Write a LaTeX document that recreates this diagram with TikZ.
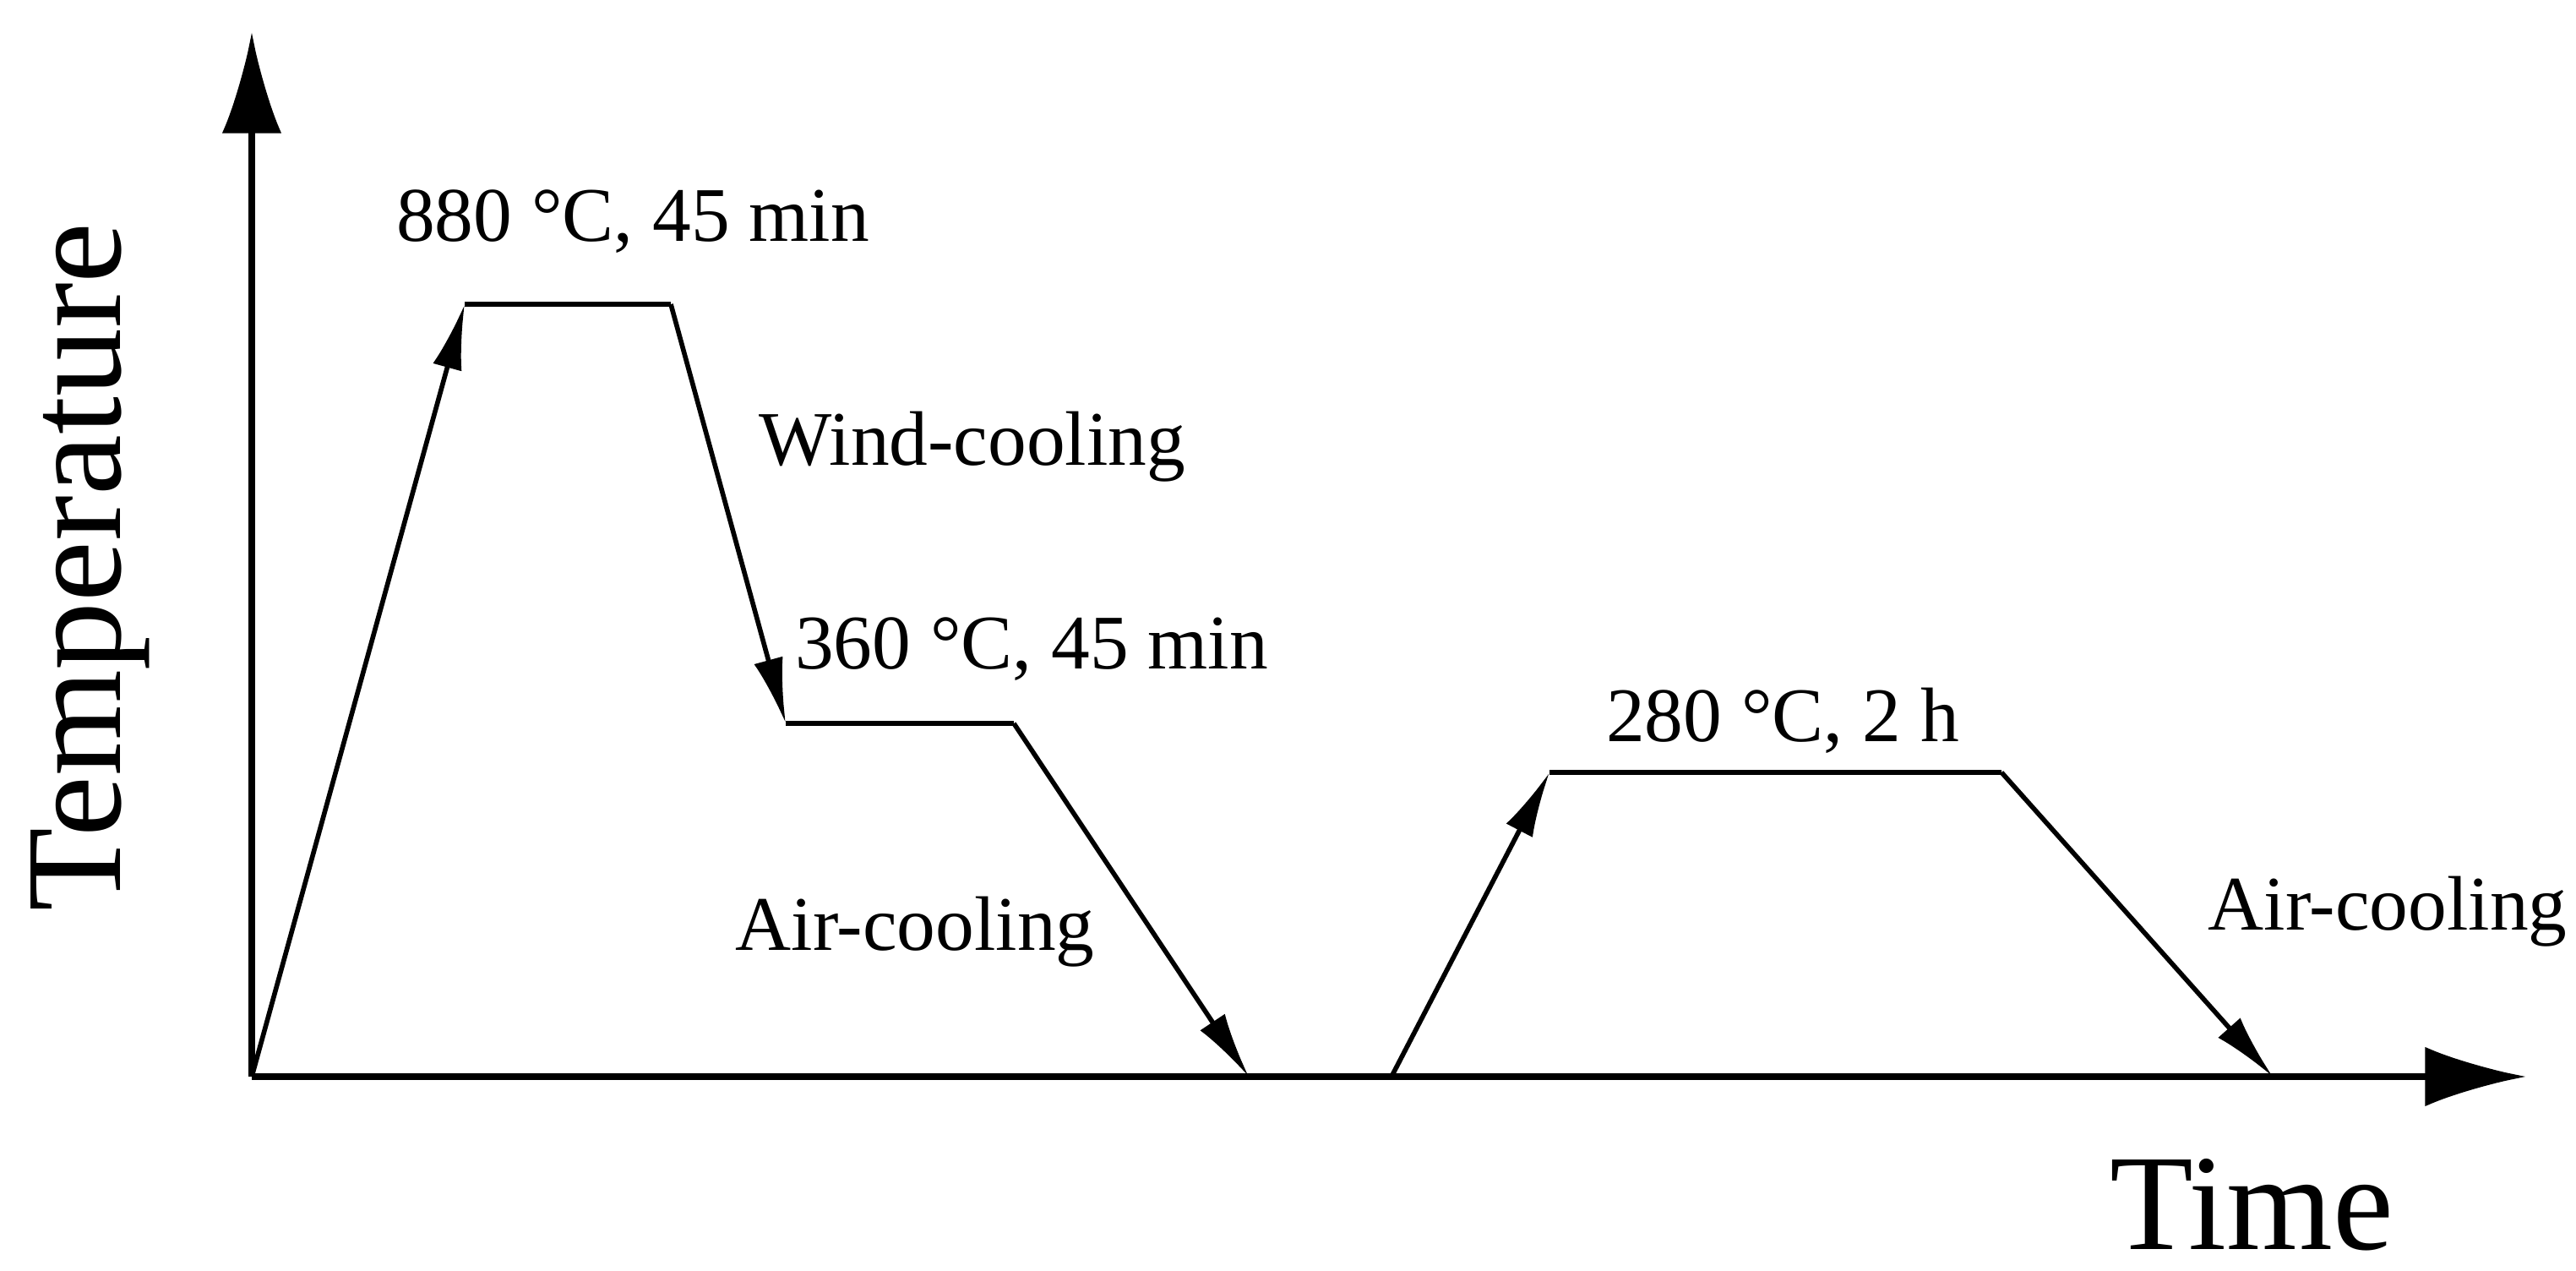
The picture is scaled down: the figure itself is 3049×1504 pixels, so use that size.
\documentclass[tikz,border=0pt]{standalone}
\usepackage{fontspec}
\setmainfont{Liberation Serif}
\usetikzlibrary{arrows.meta}
\begin{document}
\begin{tikzpicture}[x=0.01cm,y=-0.01cm,
  ln/.style={line width=1.6pt},
  ar/.style={ln,-{Latex[length=22pt,width=10pt]}},
  ax/.style={line width=2.2pt,-{Latex[length=34pt,width=20pt]}},
  lbl/.style={font=\fontsize{26}{30}\selectfont,inner sep=0pt},
  big/.style={font=\fontsize{46}{52}\selectfont,inner sep=0pt}]
\useasboundingbox (0,0) rectangle (3049,1504);
\coordinate (O) at (298,1274);
\coordinate (Ytop) at (298,38);
\coordinate (Xend) at (2990,1274);
\coordinate (A) at (550,360);
\coordinate (B) at (794,360);
\coordinate (C) at (930,856);
\coordinate (D) at (1200,856);
\coordinate (E) at (1478,1274);
\coordinate (F) at (1647,1274);
\coordinate (G) at (1834,914);
\coordinate (H) at (2369,914);
\coordinate (I) at (2690,1274);
\draw[ax] (O) -- (Ytop);
\draw[ax] (O) -- (Xend);
\draw[ar] (O) -- (A);
\draw[ln] (A) -- (B);
\draw[ar] (B) -- (C);
\draw[ln] (C) -- (D);
\draw[ar] (D) -- (E);
\draw[ar] (F) -- (G);
\draw[ln] (G) -- (H);
\draw[ar] (H) -- (I);
\node[lbl] (t1) at (749,262) {880 °C, 45 min};
\node[lbl] (t2) at (1151,529) {Wind-cooling};
\node[lbl] (t3) at (1221,768) {360 °C, 45 min};
\node[lbl] (t4) at (1083,1103) {Air-cooling};
\node[lbl] (t5) at (2110,853) {280 °C, 2 h};
\node[lbl] (t6) at (2826,1079) {Air-cooling};
\node[big,rotate=90] (ty) at (107,671) {Temperature};
\node[big] (tx) at (2665,1426) {Time};
\end{tikzpicture}
\end{document}
